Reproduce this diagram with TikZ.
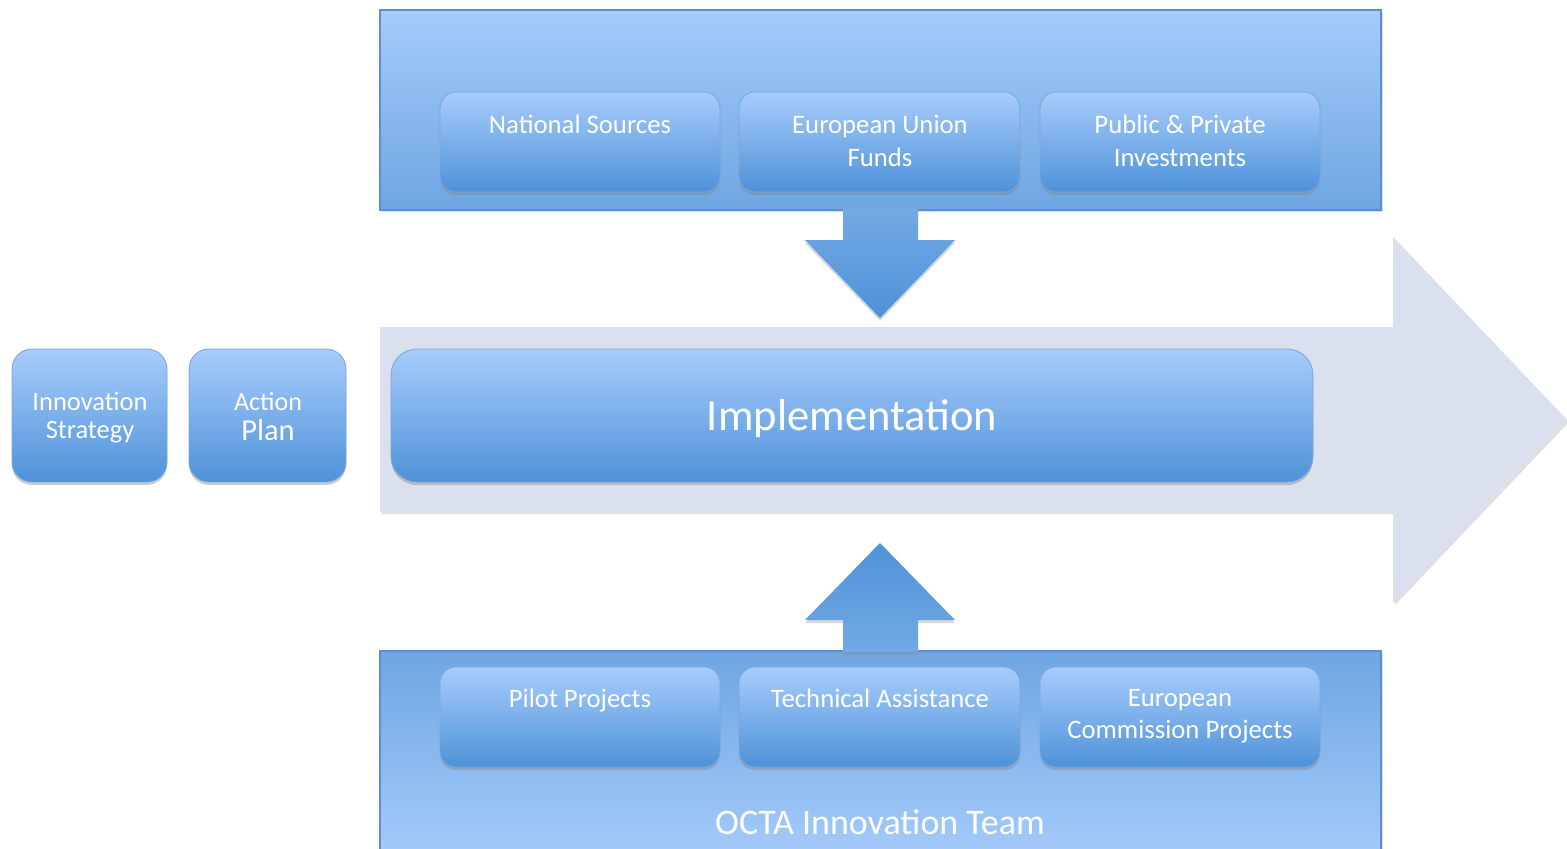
\documentclass[tikz,border=0pt]{standalone}
\usepackage{fontspec}
\setmainfont{Carlito}
\usetikzlibrary{shadows}
\definecolor{boxtop}{HTML}{A8CCFC}
\definecolor{boxbot}{HTML}{4E92D8}
\definecolor{panlight}{HTML}{A6CBFB}
\definecolor{pandark}{HTML}{6EA6E2}
\definecolor{edgeblue}{HTML}{5B8FCF}
\definecolor{bigarrow}{HTML}{DAE0EE}
\definecolor{arrtop}{HTML}{73A9E4}
\definecolor{arrbot}{HTML}{4E92D8}
\tikzset{
  panel/.style={draw=edgeblue, line width=1.2pt, drop shadow={opacity=0.25, shadow xshift=2pt, shadow yshift=-2pt}},
  bluebox/.style={draw=edgeblue!80, line width=0.8pt, rounded corners=#1, top color=boxtop, bottom color=boxbot,
     drop shadow={opacity=0.4, shadow xshift=0pt, shadow yshift=-3pt}},
  bluebox/.default=16pt,
  lbl/.style={text=white, align=center, inner sep=0pt},
  small/.style={font=\fontsize{26.7}{32.5}\selectfont},
  fatarrow/.style={top color=arrtop, bottom color=arrbot, draw=none,
     drop shadow={opacity=0.3, shadow xshift=0pt, shadow yshift=-3pt}}
}
\begin{document}
\begin{tikzpicture}[x=1pt,y=-1pt]
\useasboundingbox (0,0) rectangle (1567,849);
\fill[white] (0,0) rectangle (1567,849);

% big background arrow
\fill[bigarrow, drop shadow={opacity=0.25, shadow xshift=2pt, shadow yshift=-2pt}]
  (380,327) -- (1393,327) -- (1393,237) -- (1567,420) -- (1393,603) -- (1393,512) -- (380,512) -- cycle;

% top panel
\path[panel, top color=panlight, bottom color=pandark] (380,10) rectangle (1381,210);

% bottom panel
\path[panel, top color=pandark, bottom color=panlight] (380,651) rectangle (1381,860);

% down arrow
\path[fatarrow] (843,209) -- (918,209) -- (918,240) -- (955,240) -- (880,318) -- (805,240) -- (843,240) -- cycle;
% up arrow
\path[fatarrow, top color=arrbot, bottom color=arrtop] (880,543) -- (955,620) -- (918,620) -- (918,652) -- (843,652) -- (843,620) -- (805,620) -- cycle;

% top boxes
\path[bluebox] (440,92) rectangle (720,192);
\path[bluebox] (739,92) rectangle (1020,192);
\path[bluebox] (1040,92) rectangle (1320,192);
\node[lbl, small, anchor=north] (ns) at (580,115) {National Sources};
\node[lbl, small, anchor=north] (eu) at (880,115) {European Union\\Funds};
\node[lbl, small, anchor=north] (pp) at (1180,115) {Public \& Private\\Investments};

% bottom boxes
\path[bluebox] (440,667) rectangle (720,767);
\path[bluebox] (739,667) rectangle (1020,767);
\path[bluebox] (1040,667) rectangle (1320,767);
\node[lbl, small, anchor=north] (pil) at (580,689) {Pilot Projects};
\node[lbl, small, anchor=north] (ta) at (880,689) {Technical Assistance};
\node[lbl, small, anchor=north] (ec) at (1180,689) {European\\Commission Projects};

\node[lbl, font=\fontsize{36}{40}\selectfont] (octa) at (880,822) {OCTA Innovation Team};

% implementation
\path[bluebox=26pt] (391,349) rectangle (1313,482);
\node[lbl, font=\fontsize{44.5}{48}\selectfont] (impl) at (852,419) {Implementation};

% left boxes
\path[bluebox=20pt] (12,349) rectangle (167,482);
\path[bluebox=20pt] (189,349) rectangle (346,482);
\node[lbl, font=\fontsize{26.5}{28}\selectfont] (is) at (90,418) {Innovation\\Strategy};
\node[lbl, font=\fontsize{26}{30}\selectfont] (ap) at (268,417) {Action\\{\fontsize{30.5}{30}\selectfont Plan}};
\end{tikzpicture}
\end{document}
